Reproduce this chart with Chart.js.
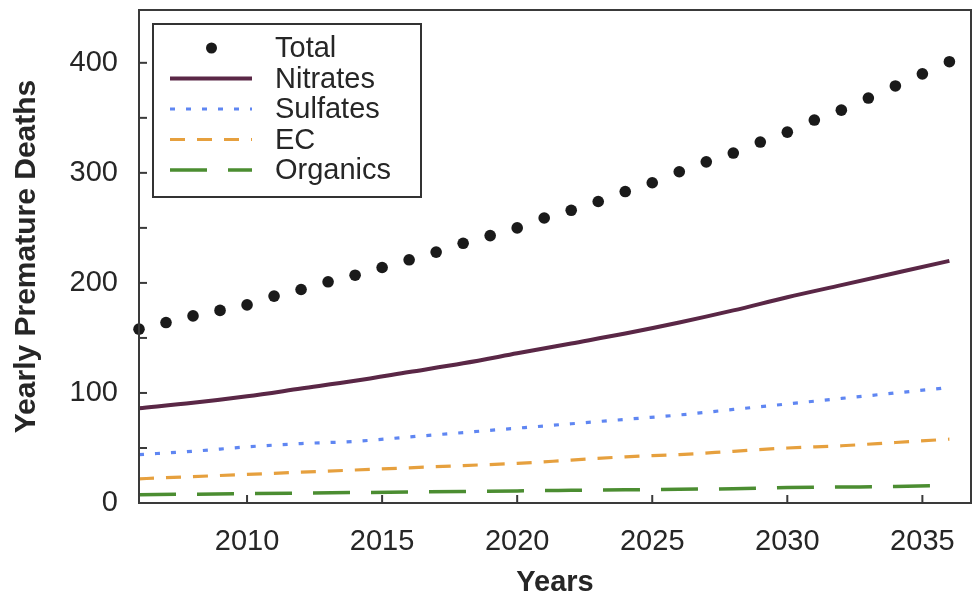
<!DOCTYPE html>
<html>
<head>
<meta charset="utf-8">
<script src="https://cdn.jsdelivr.net/npm/chart.js@4/dist/chart.umd.min.js"></script>
<style>
  html, body { margin: 0; padding: 0; background: #ffffff; }
  #wrap { width: 973px; height: 600px; position: relative; }
</style>
</head>
<body>
<div id="wrap"><canvas id="c" width="973" height="600"></canvas></div>
<script>
// ---- data ----
const totalYears = [2006,2007,2008,2009,2010,2011,2012,2013,2014,2015,2016,2017,2018,2019,2020,2021,2022,2023,2024,2025,2026,2027,2028,2029,2030,2031,2032,2033,2034,2035,2036];
const totalValues = [158,164,170,175,180,188,194,201,207,214,221,228,236,243,250,259,266,274,283,291,301,310,318,328,337,348,357,368,379,390,401];

const componentYears = [2006,2008,2010,2012,2014,2016,2018,2020,2022,2024,2026,2028,2030,2032,2034,2036];
const nitrates = [86,91,97,104,111,119,127,136,145,154,164,175,187,198,209,220];
const sulfates = [44,47,51,54,56,60,64,68,72,76,80,85,90,95,100,105];
const ecValues = [22,24,26,28,30,32,34,36,39,42,44,47,50,52,55,58];
const organics = [7.5,8,8.5,9,9.5,10,10.5,11,11.5,12,12.5,13,14,14.5,15,16];

const xTickValues = [2010,2015,2020,2025,2030,2035];
const yTickValues = [0,50,100,150,200,250,300,350,400];
const yLabelledTicks = [0,100,200,300,400];

const seriesNames = ["Total","Nitrates","Sulfates","EC","Organics"];
const xTitle = "Years";
const yTitle = "Yearly Premature Deaths";

const pts = (xs, ys) => xs.map((x, i) => ({x: x, y: ys[i]}));

const FONT = "'Liberation Sans', Arial, Helvetica, sans-serif";
const TEXT = "#262626";

const frameAndTicks = {
  id: 'frameAndTicks',
  afterDraw(chart) {
    const {ctx, chartArea: a, scales} = chart;
    ctx.save();
    ctx.strokeStyle = '#3a3a3a';
    ctx.lineWidth = 2;
    ctx.strokeRect(a.left, a.top, a.right - a.left, a.bottom - a.top);
    scales.y.ticks.forEach(t => {
      const py = scales.y.getPixelForValue(t.value);
      ctx.beginPath(); ctx.moveTo(a.left, py); ctx.lineTo(a.left + 8, py); ctx.stroke();
    });
    scales.x.ticks.forEach(t => {
      const px = scales.x.getPixelForValue(t.value);
      ctx.beginPath(); ctx.moveTo(px, a.bottom); ctx.lineTo(px, a.bottom - 8); ctx.stroke();
    });
    ctx.restore();
  }
};

const insideLegend = {
  id: 'insideLegend',
  afterDraw(chart) {
    const {ctx, chartArea: a} = chart;
    const bx = a.left + 14, by = a.top + 14, bw = 268, bh = 173;
    ctx.save();
    ctx.fillStyle = '#ffffff';
    ctx.fillRect(bx, by, bw, bh);
    ctx.strokeStyle = '#333333';
    ctx.lineWidth = 2;
    ctx.strokeRect(bx, by, bw, bh);
    const rowH = 30.5;
    const y0 = by + 24;
    const symX0 = bx + 17, symX1 = bx + 99, textX = bx + 122;
    ctx.font = "29px " + FONT;
    ctx.textBaseline = 'middle';
    ctx.textAlign = 'left';
    chart.data.datasets.forEach((ds, i) => {
      const yy = y0 + i * rowH;
      if (ds.showLine === false) {
        ctx.fillStyle = ds.pointBackgroundColor;
        ctx.beginPath(); ctx.arc((symX0 + symX1) / 2 + 0.5, yy, 5.5, 0, Math.PI * 2); ctx.fill();
      } else {
        ctx.strokeStyle = ds.borderColor;
        ctx.lineWidth = ds.borderWidth;
        ctx.setLineDash(ds.borderDash || []);
        ctx.lineCap = 'butt';
        ctx.beginPath(); ctx.moveTo(symX0, yy); ctx.lineTo(symX1, yy); ctx.stroke();
        ctx.setLineDash([]);
      }
      ctx.fillStyle = TEXT;
      ctx.fillText(ds.label, textX, yy + 1);
    });
    ctx.restore();
  }
};

new Chart(document.getElementById('c'), {
  type: 'scatter',
  data: {
    datasets: [
      { label: seriesNames[0], data: pts(totalYears, totalValues), showLine: false,
        pointRadius: 5.8, pointBackgroundColor: '#1a1a1a', pointBorderWidth: 0, pointBorderColor: '#1a1a1a' },
      { label: seriesNames[1], data: pts(componentYears, nitrates), showLine: true, pointRadius: 0,
        borderColor: '#5a2746', borderWidth: 4, cubicInterpolationMode: 'monotone' },
      { label: seriesNames[2], data: pts(componentYears, sulfates), showLine: true, pointRadius: 0,
        borderColor: '#5f86f2', borderWidth: 3.2, borderDash: [5, 11], cubicInterpolationMode: 'monotone' },
      { label: seriesNames[3], data: pts(componentYears, ecValues), showLine: true, pointRadius: 0,
        borderColor: '#e6a03e', borderWidth: 3.2, borderDash: [15, 12], cubicInterpolationMode: 'monotone' },
      { label: seriesNames[4], data: pts(componentYears, organics), showLine: true, pointRadius: 0,
        borderColor: '#4b8d31', borderWidth: 3.5, borderDash: [37, 21], cubicInterpolationMode: 'monotone' }
    ]
  },
  options: {
    responsive: false,
    animation: false,
    clip: false,
    layout: { autoPadding: false, padding: { left: 0, top: 10, right: 2, bottom: 0 } },
    plugins: { legend: { display: false }, tooltip: { enabled: false } },
    scales: {
      x: {
        type: 'linear', min: 2006, max: 2036.8,
        afterFit: s => { s.height = 97; s.paddingLeft = 0; s.paddingRight = 0; },
        afterBuildTicks: s => { s.ticks = xTickValues.map(v => ({value: v})); },
        grid: { display: false, drawTicks: false },
        border: { display: false },
        ticks: { color: TEXT, font: { family: FONT, size: 29 }, padding: 22, maxRotation: 0,
                 callback: v => String(v) },
        title: { display: true, text: xTitle, color: TEXT,
                 font: { family: FONT, size: 29, weight: 'bold' }, padding: { top: 0, bottom: 0 } }
      },
      y: {
        type: 'linear', min: 0, max: 448,
        afterFit: s => { s.width = 139; s.paddingTop = 0; s.paddingBottom = 0; },
        afterBuildTicks: s => { s.ticks = yTickValues.map(v => ({value: v})); },
        grid: { display: false, drawTicks: false },
        border: { display: false },
        ticks: { color: TEXT, font: { family: FONT, size: 29 }, padding: 21,
                 callback: v => (yLabelledTicks.includes(v) ? String(v) : '') },
        title: { display: true, text: yTitle, color: TEXT,
                 font: { family: FONT, size: 30, weight: 'bold' }, padding: { top: 9, bottom: 0 } }
      }
    }
  },
  plugins: [frameAndTicks, insideLegend]
});
</script>
</body>
</html>
